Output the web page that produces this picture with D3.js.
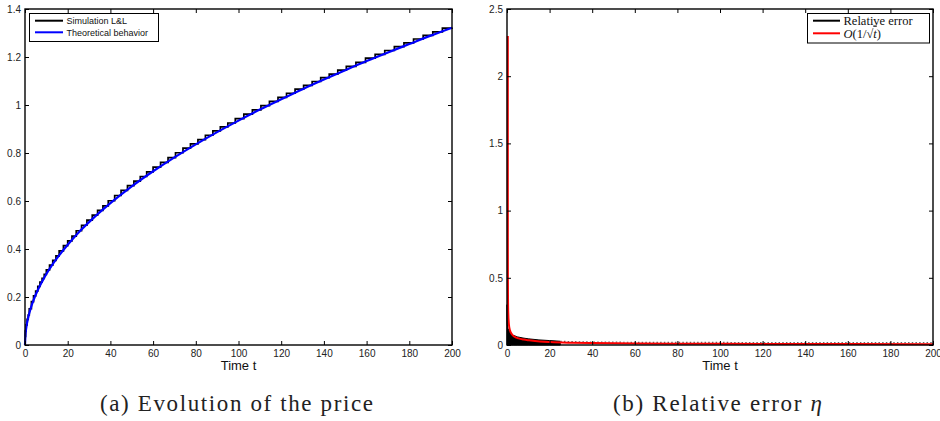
<html>
  <style type="text/css">
    body { margin: 0; background: #fff; }
  </style>
  <body>
    <script src="https://cdnjs.cloudflare.com/ajax/libs/d3/7.8.5/d3.min.js"></script>
    <script type="text/javascript">
      // panel (a): price, step simulation vs theoretical curve
      const simTimes = [0, 0.25, 0.5, 1, 1.5, 2, 3, 4, 5, 6, 7, 8, 9, 10, 11.5, 13, 14.5, 16, 18, 20, 22, 24, 26.5, 29, 31.5, 34, 36.5, 39, 42, 45, 48, 51, 54, 57, 60, 63.5, 67, 70.5, 74, 77.5, 81, 84.5, 88, 91.5, 95, 98.5, 102.5, 106.5, 110.5, 114.5, 118.5, 122.5, 126.5, 130.5, 134.5, 138.5, 142.5, 146.5, 150.5, 155, 159.5, 164, 168.5, 173, 177.5, 182, 186.5, 191, 195.5, 200];
      const simPrice = [0.036, 0.059, 0.084, 0.107, 0.125, 0.151, 0.181, 0.205, 0.225, 0.244, 0.262, 0.278, 0.294, 0.313, 0.333, 0.353, 0.371, 0.392, 0.414, 0.434, 0.454, 0.476, 0.499, 0.520, 0.541, 0.561, 0.580, 0.601, 0.623, 0.644, 0.664, 0.683, 0.702, 0.721, 0.741, 0.761, 0.781, 0.801, 0.820, 0.838, 0.856, 0.874, 0.892, 0.909, 0.925, 0.943, 0.962, 0.980, 0.997, 1.015, 1.032, 1.049, 1.066, 1.082, 1.098, 1.114, 1.129, 1.145, 1.161, 1.178, 1.195, 1.211, 1.227, 1.243, 1.259, 1.275, 1.290, 1.305, 1.320, 1.323];
      const theoTimes = [0, 0.25, 0.5, 1, 2, 3, 4, 6, 8, 10, 12.5, 15, 20, 25, 30, 40, 50, 60, 70, 80, 90, 100, 110, 120, 130, 140, 150, 160, 170, 180, 190, 200];
      const theoPrice = [0, 0.047, 0.066, 0.094, 0.132, 0.162, 0.187, 0.229, 0.264, 0.296, 0.331, 0.362, 0.418, 0.468, 0.512, 0.591, 0.661, 0.724, 0.782, 0.836, 0.887, 0.935, 0.981, 1.024, 1.066, 1.106, 1.145, 1.183, 1.219, 1.254, 1.289, 1.322];

      // panel (b): relative error and O(1/sqrt t) reference
      const errTimes = [0, 0.01, 0.05, 0.15, 0.4, 1, 2, 3, 5, 7.5, 10, 15, 20, 25, 30, 40, 60, 80, 100, 120, 140, 160, 180, 200];
      const errVals = [0.30, 0.30, 0.19, 0.15, 0.125, 0.105, 0.085, 0.072, 0.06, 0.052, 0.046, 0.038, 0.033, 0.028, 0.025, 0.022, 0.020, 0.019, 0.019, 0.018, 0.018, 0.018, 0.017, 0.017];
      const rateTimes = [0.0023, 0.005, 0.01, 0.02, 0.05, 0.1, 0.2, 0.5, 1, 2, 3, 5, 7.5, 10, 15, 20, 30, 40, 60, 80, 100, 130, 160, 200];
      const rateVals = [2.30, 1.556, 1.10, 0.778, 0.492, 0.348, 0.246, 0.156, 0.110, 0.078, 0.0635, 0.0492, 0.0402, 0.0348, 0.0260, 0.0215, 0.0170, 0.0145, 0.0115, 0.0100, 0.0090, 0.0080, 0.0072, 0.0065];

      const xTicks = [0, 20, 40, 60, 80, 100, 120, 140, 160, 180, 200];
      const yTicksA = [0, 0.2, 0.4, 0.6, 0.8, 1, 1.2, 1.4];
      const yTicksB = [0, 0.5, 1, 1.5, 2, 2.5];

      const W = 940, H = 421;
      const plotTop = 9, plotBottom = 345;
      const sans = '"Liberation Sans", Arial, sans-serif';
      const serif = '"Liberation Serif", "Times New Roman", serif';

      let svg = d3.select("body").append("svg").attr("width", W).attr("height", H)
        .attr("font-family", sans);

      function frame(x, y, yTicks) {
        let g = svg.append("g");
        const [x0, x1] = x.range();
        const tick = 4;
        g.append("g").attr("transform", `translate(0,${plotBottom})`)
          .call(d3.axisBottom(x).tickValues(xTicks).tickSize(-tick).tickPadding(4.5).tickFormat(d3.format("d")));
        g.append("g").attr("transform", `translate(0,${plotTop})`)
          .call(d3.axisTop(x).tickValues(xTicks).tickSize(-tick).tickFormat(""));
        g.append("g").attr("transform", `translate(${x0},0)`)
          .call(d3.axisLeft(y).tickValues(yTicks).tickSize(-tick).tickPadding(4).tickFormat(d => String(d)));
        g.append("g").attr("transform", `translate(${x1},0)`)
          .call(d3.axisRight(y).tickValues(yTicks).tickSize(-tick).tickFormat(""));
        g.selectAll(".domain").remove();
        g.selectAll(".tick line").attr("stroke", "#000").attr("stroke-width", 1);
        g.selectAll(".tick text").attr("font-size", 10).attr("fill", "#222").attr("font-family", sans);
        g.append("rect")
          .attr("x", x0).attr("y", plotTop).attr("width", x1 - x0).attr("height", plotBottom - plotTop)
          .attr("fill", "none").attr("stroke", "#000").attr("stroke-width", 1.4);
        g.append("text").attr("x", (x0 + x1) / 2).attr("y", 370)
          .attr("text-anchor", "middle").attr("font-size", 13).attr("fill", "#111").text("Time t");
        return g;
      }

      // ---------- panel (a)
      const xa = d3.scaleLinear().domain([0, 200]).range([25, 452]);
      const ya = d3.scaleLinear().domain([0, 1.4]).range([plotBottom, plotTop]);
      let plotA = svg.append("g");
      plotA.append("path")
        .datum(simTimes.map((t, i) => [t, simPrice[i]]))
        .attr("fill", "none").attr("stroke", "#000").attr("stroke-width", 1.7)
        .attr("d", d3.line().x(d => xa(d[0])).y(d => ya(d[1])).curve(d3.curveStepAfter));
      plotA.append("path")
        .datum(theoTimes.map((t, i) => [t, theoPrice[i]]))
        .attr("fill", "none").attr("stroke", "#0000ff").attr("stroke-width", 2.2)
        .attr("d", d3.line().x(d => xa(d[0])).y(d => ya(d[1])).curve(d3.curveMonotoneX));
      frame(xa, ya, yTicksA);

      // legend (a)
      const legA = [{ label: "Simulation L&L", color: "#000" }, { label: "Theoretical behavior", color: "#0000ff" }];
      let la = svg.append("g");
      la.append("rect").attr("x", 29.5).attr("y", 13.5).attr("width", 129).attr("height", 28)
        .attr("fill", "#fff").attr("stroke", "#000").attr("stroke-width", 1);
      legA.forEach((d, i) => {
        const yy = 20.7 + i * 11.6;
        la.append("line").attr("x1", 35).attr("x2", 63).attr("y1", yy).attr("y2", yy)
          .attr("stroke", d.color).attr("stroke-width", 2);
        la.append("text").attr("x", 66.5).attr("y", yy + 3.2).attr("font-size", 9).attr("fill", "#111").text(d.label);
      });

      // ---------- panel (b)
      const xb = d3.scaleLinear().domain([0, 200]).range([507, 933]);
      const yb = d3.scaleLinear().domain([0, 2.5]).range([plotBottom, plotTop]);
      let plotB = svg.append("g");
      const errPts = errTimes.map((t, i) => [t, errVals[i]]);
      plotB.append("path")
        .datum(errPts.filter(d => d[0] <= 25))
        .attr("fill", "#000").attr("stroke", "#000").attr("stroke-width", 1)
        .attr("d", d3.area().x(d => xb(d[0])).y0(yb(0)).y1(d => yb(d[1])));
      plotB.append("path")
        .datum(errPts.filter(d => d[0] >= 25))
        .attr("fill", "none").attr("stroke", "#666").attr("stroke-width", 1.2)
        .attr("stroke-dasharray", "1.5,2.2")
        .attr("d", d3.line().x(d => xb(d[0])).y(d => yb(d[1])));
      plotB.append("path")
        .datum(rateTimes.map((t, i) => [t, rateVals[i]]))
        .attr("fill", "none").attr("stroke", "#ff0000").attr("stroke-width", 2)
        .attr("d", d3.line().x(d => xb(d[0]) + 0.8).y(d => yb(d[1])).curve(d3.curveMonotoneX));
      frame(xb, yb, yTicksB);

      // legend (b)
      let lb = svg.append("g");
      lb.append("rect").attr("x", 807.5).attr("y", 13.5).attr("width", 122).attr("height", 29.5)
        .attr("fill", "#fff").attr("stroke", "#000").attr("stroke-width", 1);
      lb.append("line").attr("x1", 813).attr("x2", 840).attr("y1", 20.7).attr("y2", 20.7)
        .attr("stroke", "#000").attr("stroke-width", 2);
      lb.append("text").attr("x", 843.5).attr("y", 25).attr("font-size", 12.5)
        .attr("font-family", serif).attr("fill", "#111").text("Relative error");
      lb.append("line").attr("x1", 813).attr("x2", 840).attr("y1", 33.3).attr("y2", 33.3)
        .attr("stroke", "#ff0000").attr("stroke-width", 2);
      let rt = lb.append("text").attr("x", 843.5).attr("y", 37.5).attr("font-size", 12.5)
        .attr("font-family", serif).attr("fill", "#111");
      rt.append("tspan").attr("font-style", "italic").text("O");
      rt.append("tspan").text("(1/\u221A");
      rt.append("tspan").attr("font-style", "italic").style("text-decoration", "overline").text("t");
      rt.append("tspan").text(")");

      // captions
      function caption(cx, w, parts) {
        let t = svg.append("text").attr("x", cx).attr("y", 410.5).attr("text-anchor", "middle")
          .attr("font-size", 23).attr("font-family", serif).attr("fill", "#222")
          .attr("textLength", w).attr("lengthAdjust", "spacing");
        parts.forEach(p => t.append("tspan").attr("font-style", p.it ? "italic" : "normal").text(p.s));
      }
      caption(236.5, 273, [{ s: "(a)  Evolution of the price" }]);
      caption(717.5, 209, [{ s: "(b)  Relative error " }, { s: "\u03B7", it: true }]);
    </script>
  </body>
</html>
